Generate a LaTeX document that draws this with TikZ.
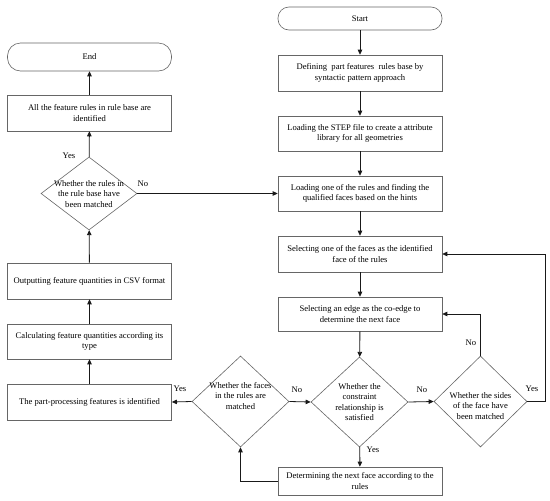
\documentclass[tikz,border=0pt]{standalone}
\usepackage{fontspec}
\setmainfont{Liberation Serif}
\usetikzlibrary{shapes.geometric,arrows.meta}
\begin{document}
\begin{tikzpicture}[x=1pt,y=-1pt,
  every node/.style={font=\fontsize{8.6}{10.5}\selectfont},
  box/.style={draw=black!60, line width=0.6pt, rectangle, minimum width=164pt, align=center, inner sep=0pt},
  term/.style={draw=black!60, line width=0.6pt, rectangle, minimum width=164pt, align=center, inner sep=0pt},
  dia/.style={draw=black!60, line width=0.6pt, diamond, inner sep=0pt},
  dtext/.style={align=center, inner sep=0pt},
  lab/.style={inner sep=0pt},
  arr/.style={draw=black!90, line width=0.8pt, -{Triangle[length=5pt,width=4.5pt]}}
]
\useasboundingbox (0,0) rectangle (550,501);
% left column
\node[term, rounded corners=13pt, minimum height=28pt] (end) at (89.5,57) {End};
\node[box, minimum height=36pt] (allr) at (89.5,113) {All the feature rules in rule base are\\identified};
\node[dia, minimum width=96pt, minimum height=73pt] (d1) at (89,193.5) {};
\node[dtext] (d1t) at (89,194) {Whether the rules in\\the rule base have\\been matched};
\node[box, minimum height=36pt] (outp) at (89.5,281) {Outputting feature quantities in CSV format};
\node[box, minimum height=35pt] (calc) at (89.5,341.5) {Calculating feature quantities according its\\type};
\node[box, minimum height=36pt] (part) at (89.5,402) {The part-processing features is identified};
\node[dia, minimum width=97pt, minimum height=91pt] (fac) at (240.5,401.5) {};
\node[dtext] (fact) at (240.5,396) {Whether the faces\\in the rules are\\matched};
% right column
\node[term, rounded corners=11pt, minimum height=23pt] (start) at (360,18.5) {Start};
\node[box, minimum height=36pt] (def) at (360,73) {Defining\ \ part features\ \ rules base by\\syntactic pattern approach};
\node[box, minimum height=35pt] (step) at (360,133.5) {Loading the STEP file to create a attribute\\library for all geometries};
\node[box, minimum height=35pt] (lone) at (360,193.5) {Loading one of the rules and finding the\\qualified faces based on the hints};
\node[box, minimum height=36pt] (sface) at (360,254) {Selecting one of the faces as the identified\\face of the rules};
\node[box, minimum height=34pt] (sedge) at (360,314) {Selecting an edge as the co-edge to\\determine the next face};
\node[dia, minimum width=97pt, minimum height=90pt] (cons) at (359.5,402) {};
\node[dtext] (const) at (359.5,402) {Whether the\\constraint\\relationship is\\satisfied};
\node[dia, minimum width=93pt, minimum height=91pt] (sides) at (480.5,401.5) {};
\node[dtext] (sidest) at (480.5,406) {Whether the sides\\of the face have\\been matched};
\node[box, minimum height=28pt] (det) at (360,481) {Determining the next face according to the\\rules};
\coordinate (loopr) at (545,401.5);
% connectors
\draw[arr] (start) -- (def);
\draw[arr] (def) -- (step);
\draw[arr] (step) -- (lone);
\draw[arr] (lone) -- (sface);
\draw[arr] (sface) -- (sedge);
\draw[arr] (sedge) -- (cons);
\draw[arr] (cons) -- (det);
\draw[arr] (fac.east) -- (cons.west);
\draw[arr] (cons.east) -- (sides.west);
\draw[arr] (sides.north) |- (sedge.east);
\draw[arr] (sides.east) -- (loopr) |- (sface.east);
\draw[arr] (det.west) -| (fac.south);
\draw[arr] (fac.west) -- (part.east);
\draw[arr] (part) -- (calc);
\draw[arr] (calc) -- (outp);
\draw[arr] (outp) -- (d1);
\draw[arr] (d1) -- (allr);
\draw[arr] (allr) -- (end);
\draw[arr] (d1.east) -- (lone.west);
% labels
\node[lab] (l1) at (69,156) {Yes};
\node[lab] (l2) at (143,184) {No};
\node[lab] (l3) at (180,389) {Yes};
\node[lab] (l4) at (297,390) {No};
\node[lab] (l5) at (422,390) {No};
\node[lab] (l6) at (373,450) {Yes};
\node[lab] (l7) at (471,343) {No};
\node[lab] (l8) at (532,389) {Yes};
\end{tikzpicture}
\end{document}
